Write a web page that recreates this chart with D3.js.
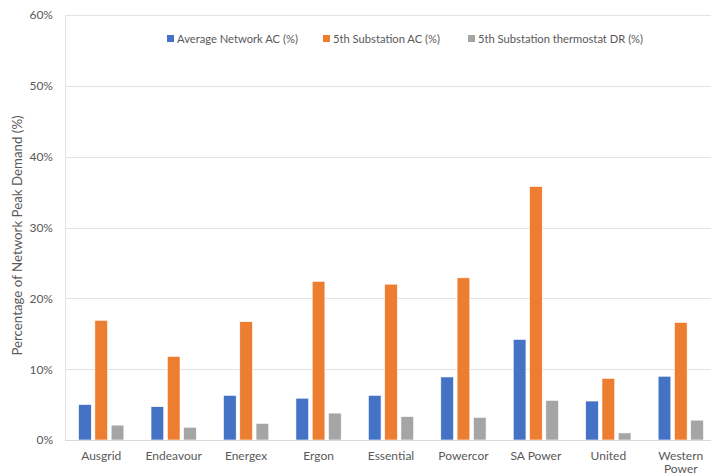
<!DOCTYPE html>
<html>
<head>
<meta charset="utf-8">
<script src="https://cdn.jsdelivr.net/npm/d3@7"></script>
<style>
  html, body { margin: 0; padding: 0; background: #fff; overflow: hidden; }
  svg { display: block; font-family: Lato, "Open Sans", sans-serif; }
</style>
</head>
<body>
<svg id="chart" width="711" height="475"></svg>
<script>
const categories = ["Ausgrid", "Endeavour", "Energex", "Ergon", "Essential", "Powercor", "SA Power", "United", "Western Power"];
const seriesNames = ["Average Network AC (%)", "5th Substation AC (%)", "5th Substation thermostat DR (%)"];
const avgNetworkAC = [5.0, 4.7, 6.3, 5.9, 6.3, 8.9, 14.2, 5.5, 9.0];
const substationAC = [16.9, 11.8, 16.7, 22.4, 22.0, 22.9, 35.8, 8.7, 16.6];
const substationDR = [2.1, 1.8, 2.35, 3.8, 3.3, 3.2, 5.6, 1.0, 2.8];
const yTicks = [0, 10, 20, 30, 40, 50, 60];
const colors = ["#4472C4", "#ED7D31", "#A5A5A5"];

(function () {
const seriesValues = [avgNetworkAC, substationAC, substationDR];
const data = categories.map((c, i) => ({ cat: c, vals: seriesValues.map(s => s[i]) }));

const svg = d3.select("#chart");
const mLeft = 65, mRight = 717, mTop = 15, mBottom = 440;

const x0 = d3.scaleBand().domain(categories).range([mLeft, mRight]).paddingInner(0.375).paddingOuter(0.1875);
const x1 = d3.scaleBand().domain(d3.range(3)).range([0, x0.bandwidth()]).paddingInner(0.22);
const y = d3.scaleLinear().domain([0, 60]).range([mBottom, mTop]);

// gridlines
svg.append("g").selectAll("line").data(yTicks.filter(d => d > 0)).join("line")
  .attr("x1", mLeft).attr("x2", mRight)
  .attr("y1", d => Math.round(y(d)) + 0.5).attr("y2", d => Math.round(y(d)) + 0.5)
  .attr("stroke", "#e3e3e3").attr("stroke-width", 1);

// left border line
svg.append("line").attr("x1", mLeft + 0.5).attr("x2", mLeft + 0.5).attr("y1", mTop).attr("y2", mBottom)
  .attr("stroke", "#e3e3e3");

// y axis labels
const yAxis = d3.axisLeft(y).tickValues(yTicks).tickFormat(d => d + "%").tickSize(0).tickPadding(12);
const yg = svg.append("g").attr("transform", `translate(${mLeft},0)`).call(yAxis);
yg.select(".domain").remove();
yg.selectAll("text").attr("fill", "#595959").attr("font-size", 12).attr("font-family", "Lato, sans-serif");

// bars
const groups = svg.append("g").selectAll("g").data(data).join("g")
  .attr("transform", d => `translate(${x0(d.cat)},0)`);
groups.selectAll("rect").data(d => d.vals.map((v, i) => ({ v, i }))).join("rect")
  .attr("x", d => x1(d.i))
  .attr("width", x1.bandwidth())
  .attr("y", d => y(d.v))
  .attr("height", d => y(0) - y(d.v))
  .attr("fill", d => colors[d.i])
  .attr("stroke", "#ffffff").attr("stroke-width", 0.6);

// x axis
svg.append("line").attr("x1", mLeft).attr("x2", mRight).attr("y1", mBottom + 0.5).attr("y2", mBottom + 0.5)
  .attr("stroke", "#d9d9d9");
const xAxis = d3.axisBottom(x0).tickSize(0).tickPadding(11);
const xg = svg.append("g").attr("transform", `translate(0,${mBottom})`).call(xAxis);
xg.select(".domain").remove();
xg.selectAll("text").attr("fill", "#595959").attr("font-size", 12).attr("font-family", "Lato, sans-serif")
  .each(function(d) {
    const t = d3.select(this);
    const words = d.split(" ");
    if (d === "Western Power") {
      t.text(null);
      t.append("tspan").attr("x", 0).attr("dy", "0.71em").text(words[0]);
      t.append("tspan").attr("x", 0).attr("dy", "1.12em").text(words[1]);
      t.attr("dy", null);
    }
  });

// y axis title
svg.append("text")
  .attr("transform", `translate(22,${(mTop + mBottom) / 2 + 8}) rotate(-90)`)
  .attr("text-anchor", "middle")
  .attr("fill", "#595959").attr("font-size", 13.3)
  .text("Percentage of Network Peak Demand (%)");

// legend
const legendX = [167, 323, 468];
const lg = svg.append("g").selectAll("g").data(seriesNames).join("g")
  .attr("transform", (d, i) => `translate(${legendX[i]},39)`);
lg.append("rect").attr("x", 0).attr("y", -4).attr("width", 7).attr("height", 7).attr("fill", (d, i) => colors[i]);
lg.append("text").attr("x", 10).attr("y", 0).attr("dy", "0.35em")
  .attr("fill", "#595959").attr("font-size", 11.2).text(d => d);
})();
</script>
</body>
</html>
